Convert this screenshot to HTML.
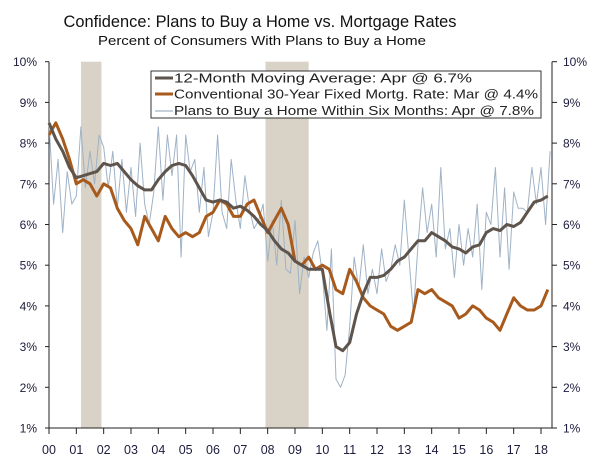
<!DOCTYPE html>
<html><head><meta charset="utf-8"><style>
html,body{margin:0;padding:0;background:#fff}
svg{display:block;font-family:"Liberation Sans","DejaVu Sans",sans-serif}
</style></head><body>
<svg id="chart" width="600" height="459" viewBox="0 0 600 459">
<text x="260" y="27" text-anchor="middle" font-size="17" fill="#111" textLength="393" lengthAdjust="spacingAndGlyphs">Confidence: Plans to Buy a Home vs. Mortgage Rates</text>
<text x="262" y="45" text-anchor="middle" font-size="13" fill="#111" textLength="328" lengthAdjust="spacingAndGlyphs">Percent of Consumers With Plans to Buy a Home</text>
<g id="recessions"></g>
<g id="axes"></g>
<g id="series"></g>
<g>
<rect x="151" y="71" width="390" height="47" fill="#fff" stroke="#333" stroke-width="1"/>
<line x1="155" y1="78" x2="173" y2="78" stroke="#5e544c" stroke-width="3"/>
<text x="174" y="82.5" font-size="12.5" fill="#222" textLength="298" lengthAdjust="spacingAndGlyphs">12-Month Moving Average: Apr @ 6.7%</text>
<line x1="155" y1="94" x2="173" y2="94" stroke="#a85a1c" stroke-width="3"/>
<text x="174" y="98.5" font-size="12.5" fill="#222" textLength="364" lengthAdjust="spacingAndGlyphs">Conventional 30-Year Fixed Mortg. Rate: Mar @ 4.4%</text>
<line x1="155" y1="111" x2="173" y2="111" stroke="#8aa0b8" stroke-width="1"/>
<text x="174" y="115" font-size="12.5" fill="#222" textLength="360" lengthAdjust="spacingAndGlyphs">Plans to Buy a Home Within Six Months: Apr @ 7.8%</text>
</g>
</svg>
<script>
const yTicks = [1,2,3,4,5,6,7,8,9,10];
const xTickLabels = ["00","01","02","03","04","05","06","07","08","09","10","11","12","13","14","15","16","17","18"];
const recessionStarts = [2001.17, 2007.92];
const recessionEnds = [2001.92, 2009.5];
// quarterly, 2000Q1 .. 2018Q2
const maValues = [8.5,8.1,7.8,7.4, 7.15,7.2,7.25,7.3, 7.5,7.45,7.5,7.3, 7.1,6.95,6.85,6.85, 7.1,7.3,7.45,7.5, 7.45,7.2,6.9,6.6, 6.55,6.6,6.55,6.4, 6.45,6.35,6.2,6.0, 5.85,5.6,5.4,5.3, 5.1,5.0,4.9,4.9, 4.9,3.9,3.0,2.9, 3.1,3.8,4.3,4.7, 4.7,4.75,4.9,5.1, 5.2,5.4,5.6,5.6, 5.8,5.7,5.6,5.45, 5.4,5.3,5.45,5.5, 5.8,5.9,5.85,6.0, 5.95,6.05,6.3,6.55, 6.6,6.7];
const mortgageValues = [8.2,8.5,8.1,7.6, 7.0,7.1,7.0,6.7, 7.0,6.9,6.4,6.1, 5.9,5.5,6.2,5.9, 5.6,6.2,5.9,5.7, 5.8,5.7,5.8,6.2, 6.3,6.6,6.5,6.2, 6.2,6.5,6.6,6.2, 5.8,6.1,6.4,6.0, 5.1,5.0,5.2,4.9, 5.0,4.9,4.4,4.3, 4.9,4.6,4.2,4.0, 3.9,3.8,3.5,3.4, 3.5,3.6,4.4,4.3, 4.4,4.2,4.1,4.0, 3.7,3.8,4.0,3.9, 3.7,3.6,3.4,3.8, 4.2,4.0,3.9,3.9, 4.0,4.4];
// bimonthly, 2000 Jan .. 2018 Apr
const plansValues = [8.5,6.5,7.6,5.8,7.3,6.5, 6.7,8.4,6.9,7.8,7.0,8.2, 7.9,6.9,7.8,6.4,7.6,6.3, 7.4,6.2,8.0,6.5,6.0,6.8, 8.4,6.6,8.2,7.2,8.2,5.2, 8.2,7.3,7.6,6.3,7.4,5.7, 6.3,8.2,6.3,5.9,7.6,6.6, 5.9,7.2,6.4,5.9,6.1,6.5, 5.1,6.1,5.0,6.6,4.9,4.8, 6.1,4.3,5.2,4.7,5.3,5.6, 4.8,3.4,5.4,2.2,2.0,2.3, 3.5,5.2,4.4,5.5,4.3,4.9, 4.3,5.4,4.6,4.9,5.5,5.0, 6.6,5.2,3.8,5.5,6.9,5.8, 6.5,5.2,7.4,5.4,5.9,4.7, 6.0,5.0,5.9,5.2,6.5,4.4, 6.3,6.0,7.4,5.2,6.9,4.9, 6.8,6.4,6.4,6.3,7.4,6.5, 7.4,6.0,7.8];
const svg = document.getElementById('chart');
const NS = 'http://www.w3.org/2000/svg';
const X0 = 49, X1 = 541, Y0 = 428, Y1 = 61.7;
const xScale = t => X0 + (t - 2000) * (X1 - X0) / 18;
const yScale = v => Y0 - (v - 1) * (Y0 - Y1) / 9;
function mk(tag, attrs, parent) {
  const e = document.createElementNS(NS, tag);
  for (const k in attrs) e.setAttribute(k, attrs[k]);
  parent.appendChild(e);
  return e;
}
const rec = document.getElementById('recessions');
recessionStarts.forEach((s, i) => {
  const r = mk('rect', {x: xScale(s), y: Y1, width: xScale(recessionEnds[i]) - xScale(s), height: Y0 - Y1, fill: '#d9d3c7'}, rec);
  
  
});
const ax = document.getElementById('axes');
const la = mk('line', {x1: X0, y1: Y1, x2: X0, y2: Y0, stroke: '#222', 'stroke-width': 1}, ax);


const ra = mk('line', {x1: 552, y1: Y1, x2: 552, y2: Y0, stroke: '#222', 'stroke-width': 1}, ax);


const xa = mk('line', {x1: X0, y1: Y0, x2: 552, y2: Y0, stroke: '#222', 'stroke-width': 1}, ax);


yTicks.forEach(v => {
  const y = yScale(v);
  mk('line', {x1: X0 - 4, y1: y, x2: X0, y2: y, stroke: '#222'}, ax);
  mk('line', {x1: 552, y1: y, x2: 557, y2: y, stroke: '#222'}, ax);
  const tl = mk('text', {x: 37, y: y + 4.5, 'text-anchor': 'end', 'font-size': 12, fill: '#1c1c3c'}, ax);
  tl.textContent = v + '%';
  
  
  const tr = mk('text', {x: 563, y: y + 4.5, 'text-anchor': 'start', 'font-size': 12, fill: '#1c1c3c'}, ax);
  tr.textContent = v + '%';
  
  
});
xTickLabels.forEach((lab, i) => {
  const x = xScale(2000 + i);
  mk('line', {x1: x, y1: Y0, x2: x, y2: Y0 + 6, stroke: '#222'}, ax);
  const t = mk('text', {x: x, y: 454, 'text-anchor': 'middle', 'font-size': 12.5, fill: '#1c1c3c'}, ax);
  t.textContent = lab;
  
  
});
const ser = document.getElementById('series');
function path(vals, step, color, w, name) {
  const d = vals.map((v, i) => (i ? 'L' : 'M') + xScale(2000 + i * step).toFixed(1) + ',' + yScale(v).toFixed(1)).join(' ');
  const p = mk('path', {d: d, fill: 'none', stroke: color, 'stroke-width': w, 'stroke-linejoin': 'round'}, ser);
  
  
}
path(plansValues, 1/6, '#9fb2c6', 1, 'plans-line');
path(mortgageValues, 0.25, '#a85a1c', 3, 'mortgage-rate-line');
path(maValues, 0.25, '#5e544c', 3, 'moving-average-line');
</script>
</body></html>
